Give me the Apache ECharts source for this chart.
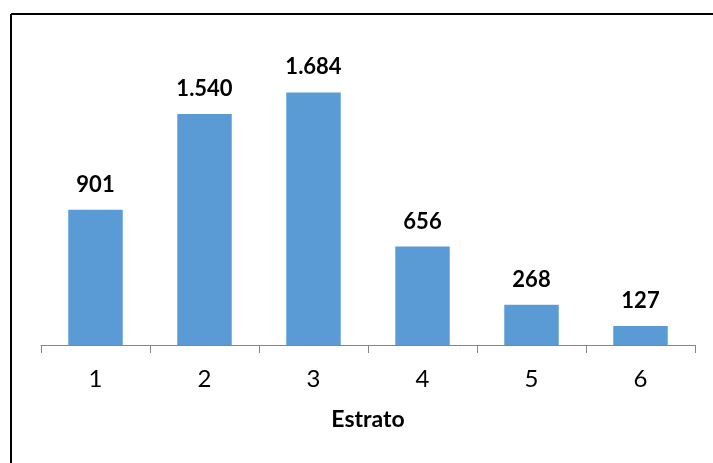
<!DOCTYPE html>
<html>
<head>
<meta charset="utf-8">
<script src="https://cdn.jsdelivr.net/npm/echarts@6/dist/echarts.min.js"></script>
<style>
  html, body { margin: 0; padding: 0; background: #fff; }
  #chart { width: 713px; height: 463px; }
</style>
</head>
<body>
<div id="chart"></div>
<script>
// Households per stratum
const estratos = ['1', '2', '3', '4', '5', '6'];
const hogares = [901, 1540, 1684, 656, 268, 127];

const fmt = v => String(v).replace(/\B(?=(\d{3})+(?!\d))/g, '.');

const chart = echarts.init(document.getElementById('chart'), null, { renderer: 'canvas' });
chart.setOption({
  animation: false,
  backgroundColor: '#ffffff',
  textStyle: { fontFamily: 'Lato, "Open Sans", sans-serif' },
  grid: { left: 41, right: 18, top: 45, bottom: 118 },
  xAxis: {
    type: 'category',
    data: estratos,
    name: 'Estrato',
    nameLocation: 'middle',
    nameGap: 63,
    nameTextStyle: { fontSize: 23, fontWeight: 'bold', color: '#000' },
    axisLine: { lineStyle: { color: '#868686', width: 1 } },
    axisTick: { show: true, length: 8, lineStyle: { color: '#868686' } },
    axisLabel: { fontSize: 24, color: '#000', margin: 22 }
  },
  yAxis: {
    type: 'value',
    min: 0,
    max: 2000,
    show: false,
    splitLine: { show: false }
  },
  series: [{
    type: 'bar',
    data: hogares,
    barWidth: '50%',
    itemStyle: { color: '#5b9bd5' },
    label: {
      show: true,
      position: 'top',
      distance: 14,
      fontSize: 22,
      fontWeight: 'bold',
      color: '#000',
      formatter: p => fmt(p.value)
    }
  }],
  graphic: [
    { type: 'line', shape: { x1: 11, y1: 14, x2: 713, y2: 14 }, style: { stroke: '#000', lineWidth: 2 } },
    { type: 'line', shape: { x1: 11, y1: 14, x2: 11, y2: 463 }, style: { stroke: '#000', lineWidth: 2 } }
  ]
});
</script>
</body>
</html>
